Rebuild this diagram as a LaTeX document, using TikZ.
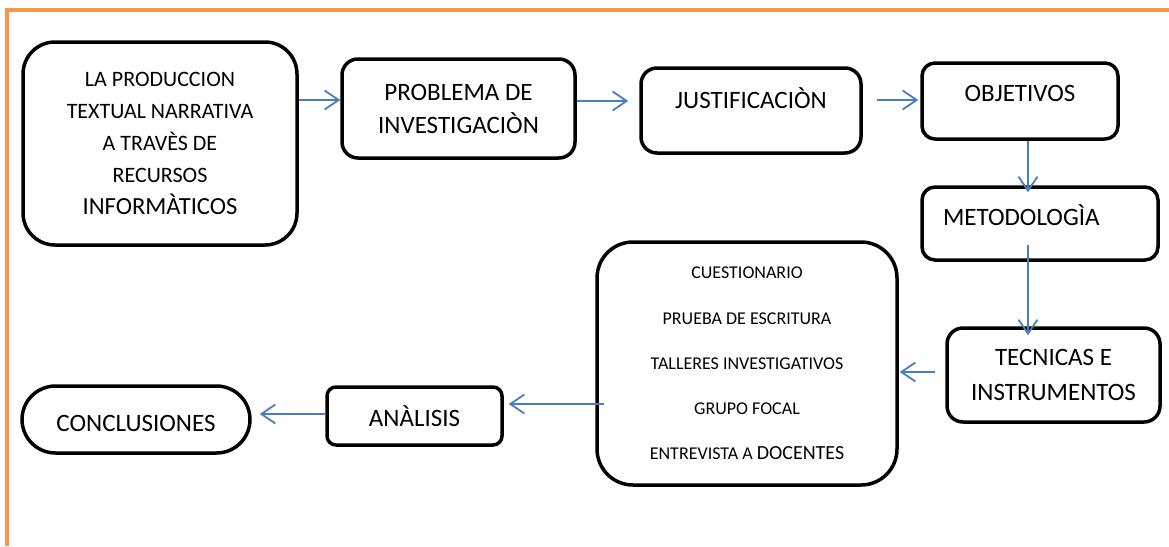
\documentclass[tikz,border=0pt]{standalone}
\usepackage{fontspec}
\setmainfont{Carlito}
\usetikzlibrary{arrows.meta}
\definecolor{orng}{HTML}{F79646}
\definecolor{arrblue}{HTML}{4A7EBB}
\tikzset{
  box/.style={draw=black, line width=3.5pt, fill=white, inner sep=0pt, align=center,
    font=\fontsize{25}{33}\selectfont},
  arr/.style={draw=arrblue, line width=1.8pt,
    -{Straight Barb[length=14pt,width=19pt,line width=1.8pt]}},
}
\begin{document}
\begin{tikzpicture}[x=1pt,y=-1pt]
\useasboundingbox (0,0) rectangle (1169,546);
% orange frame
\draw[orng, line width=4pt] (7,546) -- (7,10) -- (1169,10);

% nodes
\node[box, minimum width=274pt, minimum height=203pt, rounded corners=32pt,
  font=\fontsize{22}{32}\selectfont] (b1) at (160,143.5)
  {LA PRODUCCION\\TEXTUAL NARRATIVA\\A TRAVÈS DE\\RECURSOS\\{\fontsize{24.6}{32}\selectfont INFORMÀTICOS}};
\node[box, minimum width=233pt, minimum height=99pt, rounded corners=16pt] (prob) at (458.5,108.5)
  {PROBLEMA DE\\INVESTIGACIÒN};
\node[box, minimum width=220pt, minimum height=85pt, rounded corners=16pt,
  text height=18pt, text depth=23pt] (jus) at (751,110.5) {JUSTIFICACIÒN};
\node[box, minimum width=196pt, minimum height=76pt, rounded corners=13pt,
  text height=18pt, text depth=18pt] (obj) at (1020,101) {OBJETIVOS};
\node[box, minimum width=236pt, minimum height=73pt, rounded corners=13pt,
  align=left, text width=194pt, text height=18pt, text depth=15pt] (met) at (1040,223.5) {METODOLOGÌA};
\node[box, minimum width=213pt, minimum height=94pt, rounded corners=16pt,
  font=\fontsize{25}{35}\selectfont] (tec) at (1053.5,375) {TECNICAS E\\INSTRUMENTOS};
\node[box, minimum width=300pt, minimum height=243pt, rounded corners=36pt,
  font=\fontsize{18}{45.2}\selectfont] (big) at (747,363.5)
  {CUESTIONARIO\\PRUEBA DE ESCRITURA\\TALLERES INVESTIGATIVOS\\GRUPO FOCAL\\ENTREVISTA A {\fontsize{20}{45.2}\selectfont DOCENTES}};
\node[box, minimum width=175pt, minimum height=58pt, rounded corners=9pt] (anal) at (414.5,416) {ANÀLISIS};
\node[box, minimum width=228pt, minimum height=67pt, rounded corners=33.5pt,
  text height=24pt, text depth=1pt] (concl) at (136,419.5) {CONCLUSIONES};

% connectors
\draw[arr] ([yshift=43.5pt]b1.east) -- ([yshift=8.5pt]prob.west);
\draw[arr, shorten >=11pt] ([yshift=7.5pt]prob.east) -- ([yshift=9.5pt]jus.west);
\draw[arr, shorten <=14pt, shorten >=2pt] ([yshift=10.5pt]jus.east) -- ([yshift=10.5pt]obj.west |- jus.east);
\draw[arr, shorten >=-7pt] ([xshift=8pt]obj.south) -- ([xshift=-12pt]met.north);
\draw[arr, shorten <=-17pt, shorten >=-9pt] ([xshift=-12pt]met.south) -- ([xshift=-25.5pt]tec.north);
\draw[arr, shorten <=10pt, shorten >=1pt] ([yshift=3pt]tec.west) -- ([yshift=-8.5pt]big.east);
\draw[arr, shorten <=-9pt, shorten >=5pt] ([yshift=-40.5pt]big.west) -- ([yshift=12pt]anal.east);
\draw[arr, shorten >=8pt] ([yshift=2pt]anal.west) -- ([yshift=5.5pt]concl.east);
\end{tikzpicture}
\end{document}
